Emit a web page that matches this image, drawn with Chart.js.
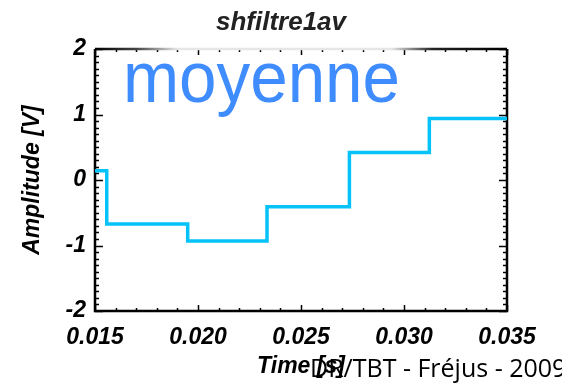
<!DOCTYPE html>
<html>
<head>
<meta charset="utf-8">
<script src="https://cdn.jsdelivr.net/npm/chart.js@4"></script>
<style>
	html, body { margin: 0; padding: 0; background: #fff; }
	#wrap { width: 562px; height: 387px; }
</style>
</head>
<body>
<div id="wrap"><canvas id="myChart"></canvas></div>
<script>
/* data */
const times = [0.015, 0.01557, 0.0195, 0.02335, 0.02735, 0.03123, 0.035];
const amplitudes = [0.14, -0.67, -0.93, -0.41, 0.42, 0.94, 0.94];
const xTicks = [0.015, 0.020, 0.025, 0.030, 0.035];
const yTicks = [-2, -1, 0, 1, 2];

const axisFont = { family: 'Liberation Sans', size: 23, weight: 'bold', style: 'italic' };

/* frame + inside ticks like IDL plots */
const framePlugin = {
	id: 'frame',
	beforeDatasetsDraw(chart) {
		const { ctx, chartArea: a, scales } = chart;
		const x = scales.x, y = scales.y;
		ctx.save();
		ctx.strokeStyle = '#000';
		ctx.lineWidth = 1.5;
		ctx.beginPath();
		// x ticks, bottom and top
		for (let i = 0; i <= 20; i++) {
			const v = 0.015 + i * 0.001;
			const px = Math.round(x.getPixelForValue(v)) + 0.5;
			const len = (i % 5 === 0) ? 6 : 3;
			ctx.moveTo(px, a.bottom); ctx.lineTo(px, a.bottom - len);
			ctx.moveTo(px, a.top); ctx.lineTo(px, a.top + len);
		}
		// y ticks, left and right
		for (let i = 0; i <= 40; i++) {
			const v = -2 + i * 0.1;
			const py = Math.round(y.getPixelForValue(v)) + 0.5;
			const len = (i % 10 === 0) ? 8 : 4;
			ctx.moveTo(a.left, py); ctx.lineTo(a.left + len, py);
			ctx.moveTo(a.right, py); ctx.lineTo(a.right - len, py);
		}
		ctx.stroke();
		// box
		ctx.lineWidth = 2.5;
		ctx.beginPath();
		ctx.moveTo(a.left, a.top);
		ctx.lineTo(a.left, a.bottom);
		ctx.lineTo(a.right, a.bottom);
		ctx.lineTo(a.right, a.top);
		ctx.stroke();
		// top edge fades out in the middle in the original
		const g = ctx.createLinearGradient(a.left, 0, a.right, 0);
		g.addColorStop(0, '#000');
		g.addColorStop(0.1, '#444');
		g.addColorStop(0.2, '#e6e6e6');
		g.addColorStop(0.72, '#e6e6e6');
		g.addColorStop(0.82, '#222');
		g.addColorStop(1, '#000');
		ctx.strokeStyle = g;
		ctx.beginPath();
		ctx.moveTo(a.left, a.top);
		ctx.lineTo(a.right, a.top);
		ctx.stroke();
		ctx.restore();
	},
	afterDraw(chart) {
		const { ctx } = chart;
		ctx.save();
		ctx.fillStyle = '#3f8cff';
		ctx.font = '73px "Liberation Sans"';
		ctx.textBaseline = 'alphabetic';
		const w = ctx.measureText('moyenne').width;
		ctx.translate(123, 102);
		ctx.scale(277 / w, 1);
		ctx.fillText('moyenne', 0, 0);
		ctx.restore();
		ctx.save();
		ctx.fillStyle = '#000';
		ctx.font = '25px "Open Sans"';
		ctx.fillText('DR/TBT - Fréjus - 2009', 310, 377);
		ctx.restore();
	}
};

const ctx = document.getElementById('myChart');

new Chart(ctx, {
	type: 'line',
	data: {
		datasets: [{
			data: times.map((t, i) => ({ x: t, y: amplitudes[i] })),
			borderColor: '#05c3f9',
			borderWidth: 3.5,
			stepped: 'before',
			pointRadius: 0,
			fill: false
		}]
	},
	options: {
		responsive: true,
		maintainAspectRatio: false,
		animation: false,
		layout: { padding: 0 },
		plugins: {
			legend: { display: false },
			tooltip: { enabled: false },
			title: {
				display: true,
				text: 'shfiltre1av',
				color: '#222',
				font: { family: 'Liberation Sans', size: 26, weight: 'bold', style: 'italic', lineHeight: 1.2 },
				padding: { top: 7, bottom: 10.8 }
			}
		},
		scales: {
			x: {
				type: 'linear',
				min: 0.015,
				max: 0.035,
				afterBuildTicks: (s) => { s.ticks = xTicks.map(v => ({ value: v })); },
				afterFit: (s) => { s.height = 76; },
				grid: { display: false, drawTicks: false },
				border: { display: false },
				ticks: {
					color: '#000',
					font: axisFont,
					padding: 13,
					maxRotation: 0,
					callback: (v) => v.toFixed(3)
				},
				title: {
					display: true,
					text: 'Time [s]',
					color: '#000',
					font: axisFont,
					padding: { top: 0, bottom: 7 }
				}
			},
			y: {
				min: -2,
				max: 2,
				afterBuildTicks: (s) => { s.ticks = yTicks.map(v => ({ value: v })); },
				afterFit: (s) => { s.width = 95; },
				grid: { display: false, drawTicks: false },
				border: { display: false },
				ticks: {
					color: '#000',
					font: axisFont,
					padding: 9,
					callback: (v) => String(v)
				},
				title: {
					display: true,
					text: 'Amplitude [V]',
					color: '#000',
					font: axisFont,
					padding: { top: 19, bottom: 0 }
				}
			},
			y2: {
				position: 'right',
				min: -2,
				max: 2,
				afterFit: (s) => { s.width = 55; },
				grid: { display: false, drawTicks: false },
				border: { display: false },
				ticks: { display: false }
			}
		}
	},
	plugins: [framePlugin]
});
</script>
</body>
</html>
